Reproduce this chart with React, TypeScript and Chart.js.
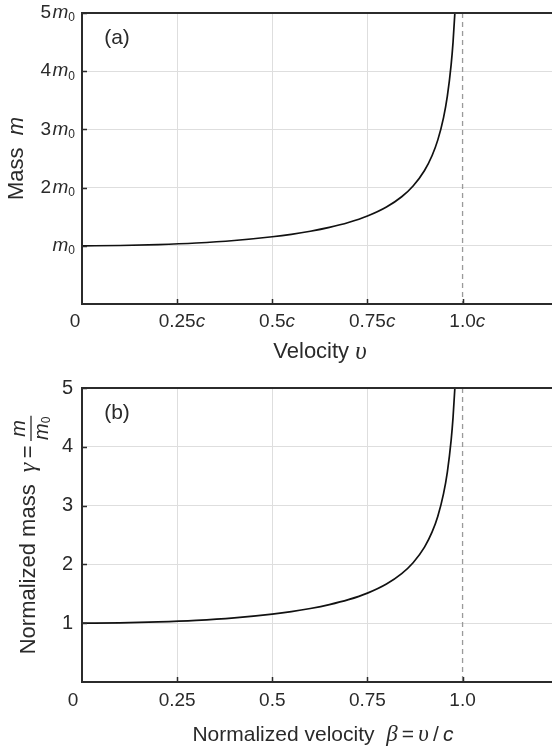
import React, { useEffect, useRef } from "react";
import { Chart, registerables } from "chart.js";

Chart.register(...registerables);

// ---- data ----
const betaValues = [0, 0.1, 0.2, 0.3, 0.4, 0.5, 0.55, 0.6, 0.65, 0.7, 0.75, 0.8, 0.84, 0.87, 0.9, 0.92, 0.935, 0.95, 0.96, 0.97, 0.975, 0.98, 0.982];
const gammaValues = [1.0, 1.005, 1.021, 1.048, 1.091, 1.155, 1.197, 1.25, 1.316, 1.4, 1.512, 1.667, 1.843, 2.028, 2.294, 2.552, 2.82, 3.203, 3.571, 4.113, 4.5, 5.025, 5.294];
const xTickValues = [0.25, 0.5, 0.75, 1.0];
const xTickLabels = ["0.25", "0.5", "0.75", "1.0"];
const yTickValues = [1, 2, 3, 4, 5];
const yTickCoefA = ["", "2", "3", "4", "5"];
const yTickLabelsB = ["1", "2", "3", "4", "5"];
const xMin = 0;
const xMax = 1.235;
const yMin = 0;
const yMax = 5;
const lightSpeedBeta = 1.0;

const SANS = '"Liberation Sans", Arial, sans-serif';
const SERIF = '"Liberation Serif", "Times New Roman", serif';
const F = (s: number, it = false) => `${it ? "italic " : ""}${s}px ${SANS}`;
const FS = (s: number) => `italic ${s}px ${SERIF}`;
const TEXT = "#2a2a2a";

type Part = { t: string; f: string; dy?: number };
function measure(ctx: CanvasRenderingContext2D, parts: Part[]) {
  let w = 0;
  for (const p of parts) {
    ctx.font = p.f;
    w += ctx.measureText(p.t).width;
  }
  return w;
}
function drawRich(ctx: CanvasRenderingContext2D, parts: Part[], x: number, y: number, align: "left" | "center" | "right") {
  const total = measure(ctx, parts);
  let cx = align === "left" ? x : align === "center" ? x - total / 2 : x - total;
  ctx.textBaseline = "middle";
  ctx.textAlign = "left";
  ctx.fillStyle = TEXT;
  for (const p of parts) {
    ctx.font = p.f;
    ctx.fillText(p.t, cx, y + (p.dy || 0));
    cx += ctx.measureText(p.t).width;
  }
}

function makePlugin(panel: "a" | "b") {
  return {
    id: "decor" + panel,
    beforeDatasetsDraw(chart: any) {
      const ctx = chart.ctx as CanvasRenderingContext2D;
      const { top, bottom } = chart.chartArea;
      const px = chart.scales.x.getPixelForValue(lightSpeedBeta);
      ctx.save();
      ctx.strokeStyle = "#9a9a9a";
      ctx.lineWidth = 1.3;
      ctx.setLineDash([5, 4]);
      ctx.beginPath();
      ctx.moveTo(px, top);
      ctx.lineTo(px, bottom);
      ctx.stroke();
      ctx.restore();
    },
    afterDraw(chart: any) {
      const ctx = chart.ctx as CanvasRenderingContext2D;
      const { left, right, top, bottom } = chart.chartArea;
      const xs = chart.scales.x;
      const ys = chart.scales.y;
      ctx.save();
      // frame
      ctx.strokeStyle = "#2b2b2b";
      ctx.lineWidth = 2;
      ctx.beginPath();
      ctx.moveTo(right + 2, top);
      ctx.lineTo(left, top);
      ctx.lineTo(left, bottom);
      ctx.lineTo(right + 2, bottom);
      ctx.stroke();
      // inward tick marks
      ctx.lineWidth = 1.5;
      ctx.beginPath();
      for (const v of xTickValues) {
        const p = Math.round(xs.getPixelForValue(v)) + 0.5;
        ctx.moveTo(p, bottom);
        ctx.lineTo(p, bottom - 5);
      }
      for (const v of yTickValues) {
        const p = Math.round(ys.getPixelForValue(v)) + 0.5;
        ctx.moveTo(left, p);
        ctx.lineTo(left + 5, p);
      }
      ctx.stroke();

      const midY = (top + bottom) / 2;
      if (panel === "a") {
        drawRich(ctx, [{ t: "(a)", f: F(21) }], 117, top + 25, "center");
        yTickValues.forEach((v, i) => {
          const y = ys.getPixelForValue(v);
          const parts: Part[] = [];
          if (yTickCoefA[i]) parts.push({ t: yTickCoefA[i], f: F(19) }, { t: " ", f: F(5) });
          parts.push({ t: "m", f: F(19, true) }, { t: "0", f: F(12), dy: 5 });
          drawRich(ctx, parts, 75, y, "right");
        });
        const ly = bottom + 18;
        drawRich(ctx, [{ t: "0", f: F(19) }], left - 7, ly, "center");
        xTickValues.forEach((v, i) => {
          const x = xs.getPixelForValue(v);
          ctx.font = F(19);
          const w = ctx.measureText(xTickLabels[i]).width;
          drawRich(ctx, [{ t: xTickLabels[i], f: F(19) }, { t: "c", f: F(19, true) }], x - w / 2, ly, "left");
        });
        drawRich(ctx, [{ t: "Velocity ", f: F(22) }, { t: "υ", f: FS(25) }], 320, bottom + 48, "center");
        ctx.save();
        ctx.translate(17, midY);
        ctx.rotate(-Math.PI / 2);
        drawRich(ctx, [{ t: "Mass  ", f: F(22) }, { t: "m", f: F(22, true) }], 0, 0, "center");
        ctx.restore();
      } else {
        drawRich(ctx, [{ t: "(b)", f: F(21) }], 117, top + 25, "center");
        yTickValues.forEach((v, i) => {
          const y = ys.getPixelForValue(v);
          drawRich(ctx, [{ t: yTickLabelsB[i], f: F(20) }], 73, y, "right");
        });
        const ly = bottom + 19;
        drawRich(ctx, [{ t: "0", f: F(19) }], left - 9, ly, "center");
        xTickValues.forEach((v, i) => {
          const x = xs.getPixelForValue(v);
          drawRich(ctx, [{ t: xTickLabels[i], f: F(19) }], x, ly, "center");
        });
        drawRich(
          ctx,
          [
            { t: "Normalized velocity  ", f: F(21) },
            { t: "β", f: FS(23) },
            { t: "\u2009=\u2009", f: F(21) },
            { t: "υ", f: FS(23) },
            { t: "\u2009/", f: F(21) },
            { t: "\u2009c", f: F(21, true) },
          ],
          323,
          bottom + 53,
          "center"
        );
        // rotated y title with fraction
        ctx.save();
        ctx.translate(29, midY);
        ctx.rotate(-Math.PI / 2);
        const main: Part[] = [
          { t: "Normalized mass  ", f: F(22) },
          { t: "γ", f: FS(24) },
          { t: "\u2009=\u2009", f: F(22) },
        ];
        const mw = measure(ctx, main);
        ctx.font = F(20, true);
        const numW = ctx.measureText("m").width;
        const denParts: Part[] = [{ t: "m", f: F(20, true) }, { t: "0", f: F(12), dy: 5 }];
        const denW = measure(ctx, denParts);
        const fw = Math.max(numW, denW) + 2;
        const total = mw + fw;
        const sx = -total / 2;
        drawRich(ctx, main, sx, 0, "left");
        const fx = sx + mw;
        drawRich(ctx, [{ t: "m", f: F(20, true) }], fx + fw / 2, -10, "center");
        drawRich(ctx, denParts, fx + fw / 2, 13, "center");
        ctx.strokeStyle = TEXT;
        ctx.lineWidth = 1.3;
        ctx.beginPath();
        ctx.moveTo(fx, 2);
        ctx.lineTo(fx + fw, 2);
        ctx.stroke();
        ctx.restore();
      }
      ctx.restore();
    },
  };
}

function makeConfig(panel: "a" | "b", padTop: number, xHeight: number): any {
  const points = betaValues.map((b, i) => ({ x: b, y: gammaValues[i] }));
  return {
    type: "line",
    data: {
      datasets: [
        {
          data: points,
          borderColor: "#111111",
          borderWidth: 1.7,
          pointRadius: 0,
          fill: false,
          cubicInterpolationMode: "monotone",
        },
      ],
    },
    options: {
      responsive: false,
      animation: false,
      devicePixelRatio: 1,
      layout: { padding: { top: padTop, left: 0, right: 0, bottom: 0 } },
      plugins: { legend: { display: false }, tooltip: { enabled: false } },
      scales: {
        x: {
          type: "linear",
          min: xMin,
          max: xMax,
          afterBuildTicks: (s: any) => {
            s.ticks = xTickValues.map((v) => ({ value: v }));
          },
          afterFit: (s: any) => {
            s.height = xHeight;
          },
          ticks: { display: false },
          grid: {
            color: (c: any) => (c.tick && c.tick.value === lightSpeedBeta ? "rgba(0,0,0,0)" : "#dedede"),
            lineWidth: 1,
            drawTicks: false,
          },
          border: { display: false },
        },
        y: {
          type: "linear",
          min: yMin,
          max: yMax,
          afterBuildTicks: (s: any) => {
            s.ticks = yTickValues.map((v) => ({ value: v }));
          },
          afterFit: (s: any) => {
            s.width = 82;
          },
          ticks: { display: false },
          grid: { color: "#dedede", lineWidth: 1, drawTicks: false },
          border: { display: false },
        },
      },
    },
    plugins: [makePlugin(panel)],
  };
}

export default function App() {
  const refA = useRef<HTMLCanvasElement>(null);
  const refB = useRef<HTMLCanvasElement>(null);
  useEffect(() => {
    const a = new Chart(refA.current!, makeConfig("a", 13, 70));
    const b = new Chart(refB.current!, makeConfig("b", 14, 66));
    return () => {
      a.destroy();
      b.destroy();
    };
  }, []);
  return (
    <div style={{ position: "absolute", left: 0, top: 0, width: 552, height: 748, background: "#fff" }}>
      <canvas ref={refA} width={552} height={374} style={{ position: "absolute", left: 0, top: 0, display: "block" }} />
      <canvas ref={refB} width={552} height={374} style={{ position: "absolute", left: 0, top: 374, display: "block" }} />
    </div>
  );
}
